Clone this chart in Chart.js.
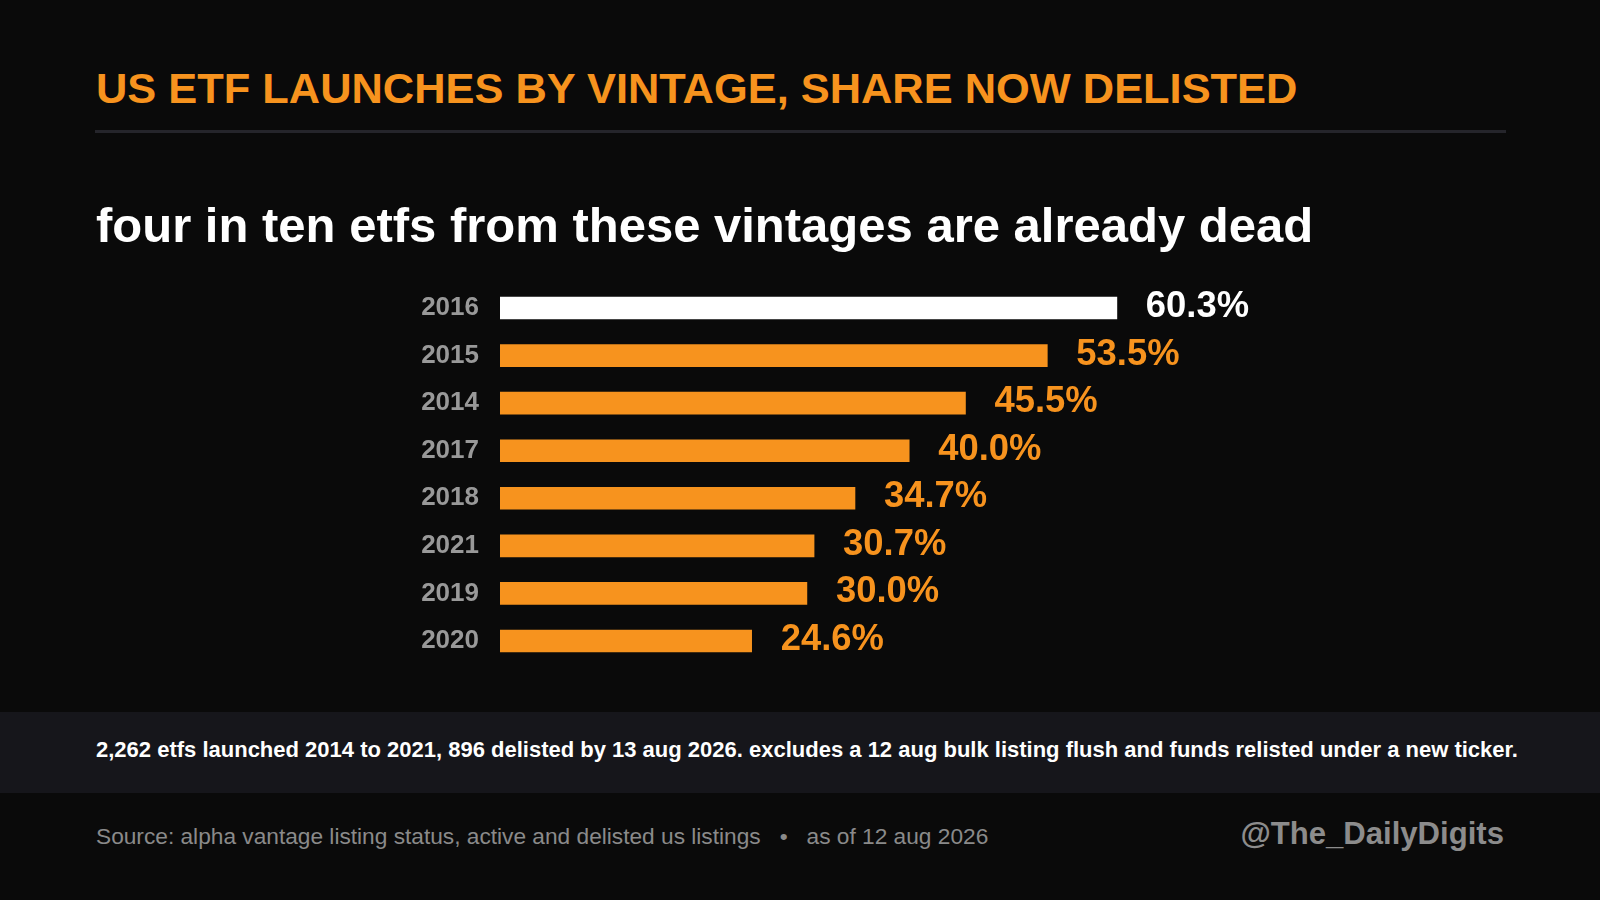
<!DOCTYPE html>
<html>
<head>
<meta charset="utf-8">
<script src="https://cdn.jsdelivr.net/npm/chart.js@4.4.1/dist/chart.umd.min.js"></script>
<style>
  html, body { margin: 0; padding: 0; background: #0a0a0a; }
  body { width: 1600px; height: 900px; position: relative; overflow: hidden; font-family: "Liberation Sans", Arial, sans-serif; }
  .abs { position: absolute; white-space: nowrap; line-height: 1; }
  #title { left: 96px; top: 67.3px; font-size: 43.4px; font-weight: bold; color: #f7931e; }
  #rule { position: absolute; left: 95px; top: 130px; width: 1411px; height: 3px; background: #25252b; }
  #subtitle { left: 96px; top: 201.2px; font-size: 49px; font-weight: bold; color: #ffffff; }
  #band { position: absolute; left: 0; top: 712px; width: 1600px; height: 81px; background: #16161b; }
  #note { left: 96px; top: 739.4px; font-size: 22px; font-weight: bold; color: #ffffff; }
  #source { left: 96px; top: 824.8px; font-size: 22.7px; color: #8a8a8a; }
  #source .dot { margin: 0 19px; }
  #handle { right: 96px; top: 817.8px; font-size: 31.1px; font-weight: bold; color: #8c8c8c; }
  #chartWrap { position: absolute; left: 0; top: 240px; width: 1600px; height: 480px; }
</style>
</head>
<body>
<div id="band"></div>
<div id="rule"></div>
<div id="chartWrap"><canvas id="c" width="1600" height="480"></canvas></div>
<div class="abs" id="title">US ETF LAUNCHES BY VINTAGE, SHARE NOW DELISTED</div>
<div class="abs" id="subtitle">four in ten etfs from these vintages are already dead</div>
<div class="abs" id="note">2,262 etfs launched 2014 to 2021, 896 delisted by 13 aug 2026. excludes a 12 aug bulk listing flush and funds relisted under a new ticker.</div>
<div class="abs" id="source">Source: alpha vantage listing status, active and delisted us listings<span class="dot">•</span>as of 12 aug 2026</div>
<div class="abs" id="handle">@The_DailyDigits</div>
<script>
const categories = ['2016', '2015', '2014', '2017', '2018', '2021', '2019', '2020'];
const shareDelisted = [60.3, 53.5, 45.5, 40.0, 34.7, 30.7, 30.0, 24.6];
const highlightIndex = 0;

const ORANGE = '#f7931e';
const WHITE = '#ffffff';
const FONT = '"Liberation Sans", Arial, sans-serif';
const barColors = categories.map((_, i) => i === highlightIndex ? WHITE : ORANGE);

const valueLabels = {
  id: 'valueLabels',
  afterDatasetsDraw(chart) {
    const ctx = chart.ctx;
    const meta = chart.getDatasetMeta(0);
    ctx.save();
    ctx.font = 'bold 36.4px ' + FONT;
    ctx.textAlign = 'left';
    ctx.textBaseline = 'alphabetic';
    meta.data.forEach((bar, i) => {
      ctx.fillStyle = barColors[i];
      ctx.fillText(shareDelisted[i].toFixed(1) + '%', bar.x + 29, bar.y + 9);
    });
    ctx.restore();
  }
};

new Chart(document.getElementById('c'), {
  type: 'bar',
  data: {
    labels: categories,
    datasets: [{
      data: shareDelisted,
      backgroundColor: barColors,
      borderWidth: 0,
      barThickness: 22
    }]
  },
  options: {
    indexAxis: 'y',
    responsive: false,
    animation: false,
    layout: { padding: { top: 44.2, bottom: 55.2, left: 0, right: 77 } },
    plugins: { legend: { display: false }, tooltip: { enabled: false } },
    scales: {
      x: { min: 0, max: 100, display: false },
      y: {
        grid: { display: false, drawTicks: false },
        border: { display: false },
        ticks: { color: '#999999', padding: 21, font: { family: FONT, size: 26, weight: 'bold' } },
        afterFit(scale) { scale.width = 500; }
      }
    }
  },
  plugins: [valueLabels]
});
</script>
</body>
</html>
